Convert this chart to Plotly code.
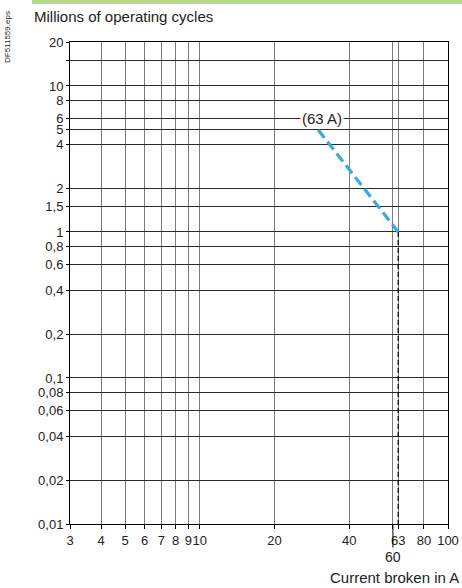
import numpy as np
import plotly.graph_objects as go

# Data
curve_current = [30, 63]          # A
curve_cycles = [5, 1]             # millions of operating cycles
rating_label = "(63 A)"
rating_current = 63

x_tickvals = [3, 4, 5, 6, 7, 8, 9, 10, 20, 40, 60, 63, 80, 100]
x_ticktext = ["3", "4", "5", "6", "7", "8", "9", "10", "20", "40", "", "63", "80", "100"]
y_tickvals = [20, 15, 10, 8, 6, 5, 4, 2, 1.5, 1, 0.8, 0.6, 0.4, 0.2, 0.1, 0.08, 0.06, 0.04, 0.02, 0.01]
y_ticktext = ["20", "", "10", "8", "6", "5", "4", "2", "1,5", "1", "0,8", "0,6", "0,4", "0,2",
              "0,1", "0,08", "0,06", "0,04", "0,02", "0,01"]

W, H = 462, 588
L, R, T, B = 70, 14, 42, 64
pw, ph = W - L - R, H - T - B

def px(xp):
    return (xp - L) / pw

def py(yp):
    return (H - B - yp) / ph

FONT = "Liberation Sans, Arial, sans-serif"
TICK = 13
TXT = 15

fig = go.Figure()

# vertical dashed line at rated current
fig.add_trace(go.Scatter(
    x=[rating_current, rating_current], y=[curve_cycles[-1], 0.01],
    mode="lines", line=dict(color="black", width=1.2, dash="5px,3px"),
    hoverinfo="skip", showlegend=False))

# curve
fig.add_trace(go.Scatter(
    x=curve_current, y=curve_cycles, mode="lines",
    line=dict(color="#3BA9DF", width=3.2, dash="10px,5px"),
    showlegend=False))

fig.update_xaxes(
    type="log", range=[np.log10(3), np.log10(100)],
    tickvals=x_tickvals, ticktext=x_ticktext, tickangle=0, automargin=False,
    showgrid=True, gridcolor="#7a7a7a", gridwidth=1,
    showline=True, linecolor="black", linewidth=1, mirror=True,
    ticks="outside", ticklen=4, tickcolor="black",
    tickfont=dict(family=FONT, size=TICK, color="#222"),
    zeroline=False)
fig.update_yaxes(
    type="log", range=[np.log10(0.01), np.log10(20)],
    tickvals=y_tickvals, ticktext=y_ticktext, automargin=False,
    showgrid=True, gridcolor="#2a2a2a", gridwidth=1,
    showline=True, linecolor="black", linewidth=1, mirror=True,
    ticks="outside", ticklen=3, tickcolor="black",
    tickfont=dict(family=FONT, size=TICK, color="#222"),
    zeroline=False)

annotations = [
    dict(text=rating_label, x=np.log10(31), y=np.log10(6), xref="x", yref="y",
         showarrow=False, bgcolor="white", borderpad=1,
         font=dict(family=FONT, size=TXT, color="#222")),
    dict(text="60", x=np.log10(60), y=0, xref="x", yref="paper",
         showarrow=True, arrowhead=0, arrowwidth=1, arrowcolor="black",
         ax=0, ay=33, standoff=0,
         font=dict(family=FONT, size=14, color="#222")),
    dict(text="Millions of operating cycles", x=px(32), y=py(17), xref="paper", yref="paper",
         xanchor="left", yanchor="middle", showarrow=False,
         font=dict(family=FONT, size=TXT, color="#222")),
    dict(text="Current broken in A", x=px(461), y=py(577), xref="paper", yref="paper",
         xanchor="right", yanchor="middle", showarrow=False,
         font=dict(family=FONT, size=TXT, color="#222")),
    dict(text="DF511559.eps", x=px(7), y=py(37), xref="paper", yref="paper",
         xanchor="center", yanchor="middle", showarrow=False, textangle=-90,
         font=dict(family=FONT, size=8, color="#222")),
]

shapes = [
    dict(type="rect", xref="paper", yref="paper", x0=px(32), x1=px(462), y0=py(4), y1=py(0),
         fillcolor="#B4D98F", line=dict(width=0), layer="above"),
]

fig.update_layout(
    width=W, height=H,
    margin=dict(l=L, r=R, t=T, b=B, pad=0, autoexpand=False),
    paper_bgcolor="white", plot_bgcolor="white",
    annotations=annotations, shapes=shapes,
    showlegend=False, hovermode=False)

fig.write_html(
    "out.html",
    config={"displayModeBar": False, "staticPlot": True},
    post_script="document.body.style.margin='0';document.body.style.overflow='hidden';",
)
